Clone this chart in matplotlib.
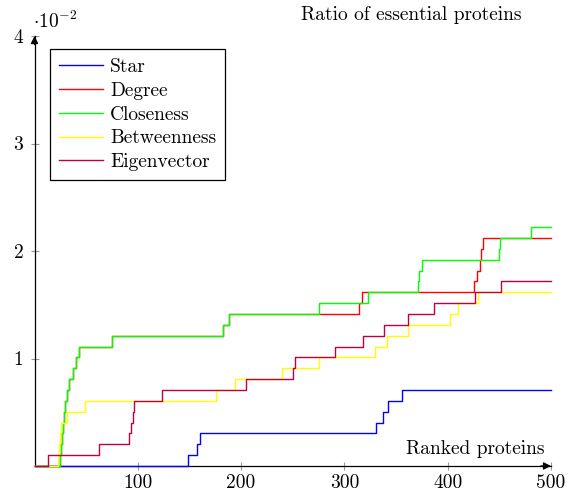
import matplotlib
matplotlib.use("Agg")
import matplotlib.pyplot as plt

# ratio of essential proteins, in units of 1e-2, as step functions (value from x onward)
star_x = [0, 149, 157, 160, 331, 337, 342, 356, 500]
star_y = [0, 0.101, 0.202, 0.303, 0.404, 0.505, 0.606, 0.707, 0.707]

degree_x = [0, 25, 26, 27, 28, 29, 30, 31, 33, 37, 40, 43, 75, 182, 188,
            314, 317, 425, 428, 431, 432, 434, 500]
degree_y = [0, 0.101, 0.202, 0.303, 0.404, 0.505, 0.606, 0.707, 0.808, 0.909, 1.01, 1.111, 1.212, 1.313, 1.414,
            1.515, 1.616, 1.717, 1.818, 1.919, 2.02, 2.121, 2.121]

closeness_x = [0, 25, 26, 27, 28, 29, 30, 31, 33, 37, 40, 43, 75, 182, 188,
               275, 323, 371, 372, 375, 450, 451, 481, 500]
closeness_y = [0, 0.101, 0.202, 0.303, 0.404, 0.505, 0.606, 0.707, 0.808, 0.909, 1.01, 1.111, 1.212, 1.313, 1.414,
               1.515, 1.616, 1.717, 1.818, 1.919, 2.02, 2.121, 2.222, 2.222]

betweenness_x = [0, 23, 24, 25, 26, 31, 49, 176, 194, 240, 275, 330, 341, 362, 402, 410, 429, 500]
betweenness_y = [0, 0.101, 0.202, 0.303, 0.404, 0.505, 0.606, 0.707, 0.808, 0.909, 1.01, 1.111, 1.212,
                 1.313, 1.414, 1.515, 1.616, 1.616]

eigen_x = [0, 13, 62, 91, 93, 95, 96, 123, 205, 250, 252, 291, 318, 338, 362, 387, 426, 452, 500]
eigen_y = [0, 0.101, 0.202, 0.303, 0.404, 0.505, 0.606, 0.707, 0.808, 0.909, 1.01, 1.111, 1.212,
           1.313, 1.414, 1.515, 1.616, 1.717, 1.717]

x_ticks = [100, 200, 300, 400, 500]
y_ticks = [1, 2, 3, 4]

plt.rcParams["font.family"] = "cmr10"
plt.rcParams["mathtext.fontset"] = "cm"
plt.rcParams["axes.unicode_minus"] = False
FS = 14

fig = plt.figure(figsize=(5.69, 4.93), dpi=100)
ax = fig.add_axes([34.5 / 569, 27 / 493, 516.5 / 569, 430 / 493])

series = [
    (star_x, star_y, "Star", (0, 0, 1)),
    (degree_x, degree_y, "Degree", (1, 0, 0)),
    (closeness_x, closeness_y, "Closeness", (0, 1, 0)),
    (betweenness_x, betweenness_y, "Betweenness", (1, 1, 0)),
    (eigen_x, eigen_y, "Eigenvector", (0.75, 0, 0.25)),
]
for xs, ys, name, col in series:
    ax.plot(xs, ys, drawstyle="steps-post", color=col, lw=1.0, label=name,
            clip_on=False, zorder=3)

ax.set_xlim(0, 500)
ax.set_ylim(0, 4)
ax.set_xticks(x_ticks)
ax.set_yticks(y_ticks)
ax.set_xticklabels([str(t) for t in x_ticks], fontsize=FS)
ax.set_yticklabels([str(t) for t in y_ticks], fontsize=FS)
ax.tick_params(direction="inout", length=6, width=0.8, color="#999999")
ax.tick_params(axis="x", pad=3)
ax.tick_params(axis="y", pad=5)

for s in ["top", "right"]:
    ax.spines[s].set_visible(False)
ax.spines["left"].set_linewidth(0.9)
ax.spines["bottom"].set_linewidth(0.9)

# arrow heads on the axes
arrow = dict(arrowstyle="-|>", color="black", lw=0.9, mutation_scale=11, shrinkA=0, shrinkB=0)
ax.annotate("", xy=(1, 0), xytext=(0.98, 0), xycoords="axes fraction", arrowprops=arrow, zorder=4)
ax.annotate("", xy=(0, 1), xytext=(0, 0.98), xycoords="axes fraction", arrowprops=arrow, zorder=4)

ax.text(-0.002, 1.01, r"$\cdot 10^{-2}$", transform=ax.transAxes, fontsize=FS, ha="left", va="bottom")
ax.text(0.516, 1.028, "Ratio of essential proteins", transform=ax.transAxes, fontsize=FS,
        ha="left", va="bottom")
ax.text(0.988, 0.018, "Ranked proteins", transform=ax.transAxes, fontsize=FS, ha="right", va="bottom")

leg = ax.legend(loc="upper left", bbox_to_anchor=(0.030, 0.969), fontsize=FS, frameon=True,
                fancybox=False, framealpha=1, edgecolor="black", borderpad=0.45,
                labelspacing=0.3, handlelength=2.3, handletextpad=0.35, borderaxespad=0)
leg.get_frame().set_linewidth(0.9)

fig.savefig("out.png", dpi=100)
